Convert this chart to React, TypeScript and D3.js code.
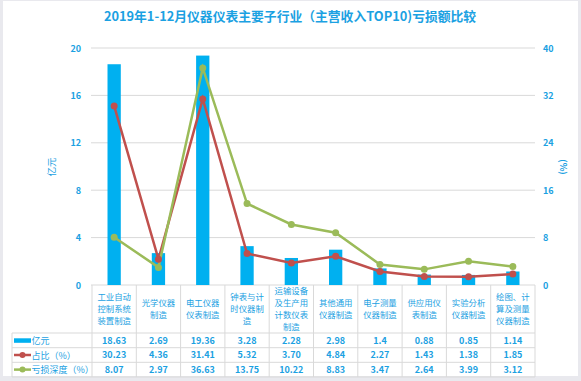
import React from "react";
import * as d3 from "d3";

const title = "2019年1-12月仪器仪表主要子行业（主营收入TOP10)亏损额比较";
const categories: string[][] = [
  ["工业自动", "控制系统", "装置制造"],
  ["光学仪器", "制造"],
  ["电工仪器", "仪表制造"],
  ["钟表与计", "时仪器制", "造"],
  ["运输设备", "及生产用", "计数仪表", "制造"],
  ["其他通用", "仪器制造"],
  ["电子测量", "仪器制造"],
  ["供应用仪", "表制造"],
  ["实验分析", "仪器制造"],
  ["绘图、计", "算及测量", "仪器制造"],
];
const lossValues = [18.63, 2.69, 19.36, 3.28, 2.28, 2.98, 1.4, 0.88, 0.85, 1.14];
const lossLabels = ["18.63", "2.69", "19.36", "3.28", "2.28", "2.98", "1.4", "0.88", "0.85", "1.14"];
const shareValues = [30.23, 4.36, 31.41, 5.32, 3.7, 4.84, 2.27, 1.43, 1.38, 1.85];
const shareLabels = ["30.23", "4.36", "31.41", "5.32", "3.70", "4.84", "2.27", "1.43", "1.38", "1.85"];
const depthValues = [8.07, 2.97, 36.63, 13.75, 10.22, 8.83, 3.47, 2.64, 3.99, 3.12];
const depthLabels = ["8.07", "2.97", "36.63", "13.75", "10.22", "8.83", "3.47", "2.64", "3.99", "3.12"];
const leftTicks = [0, 4, 8, 12, 16, 20];
const rightTicks = [0, 8, 16, 24, 32, 40];
const seriesNames = ["亿元", "占比（%）", "亏损深度（%）"];

const W = 581, H = 381;
const FONT = "'Noto Sans CJK SC', 'Noto Sans', sans-serif";
const TXT = "#1ba1e2";
const BLUE = "#00b0f0";
const RED = "#c0504d";
const GREEN = "#9bbb59";
const GRID = "#d9d9d9";

export default function App() {
  const ids = categories.map((_, i) => String(i));
  const x = d3.scaleBand<string>().domain(ids).range([92, 535]).padding(0);
  const yL = d3.scaleLinear().domain([0, 20]).range([285, 48]);
  const yR = d3.scaleLinear().domain([0, 40]).range([285, 48]);
  const bw = x.bandwidth() * 0.3;
  const cx = (i: number) => (x(String(i)) as number) + x.bandwidth() / 2;
  const lineR = d3.line<number>().x((_, i) => cx(i)).y((d) => yR(d));

  const rowTops = [333, 347.7, 362.3, 377];
  const rowLabels = [lossLabels, shareLabels, depthLabels];

  return (
    <svg width={W} height={H} style={{ position: "absolute", left: 0, top: 0, fontFamily: FONT }}>
      <rect x={0} y={0} width={W} height={H} fill="#e9e9ee" />
      <rect x={3} y={1} width={575} height={375} fill="#ffffff" />
      <text x={290} y={21} textAnchor="middle" fontSize={12.8} fontWeight="bold" fill={TXT}>{title}</text>

      {leftTicks.map((t) => (
        <g key={"g" + t}>
          <line x1={91} x2={535} y1={yL(t)} y2={yL(t)} stroke={GRID} strokeWidth={1} />
          <text x={81} y={yL(t) + 3.5} textAnchor="end" fontSize={9} fontWeight="bold" fill={TXT}>{t}</text>
        </g>
      ))}
      {rightTicks.map((t) => (
        <text key={"r" + t} x={543} y={yR(t) + 3.5} textAnchor="start" fontSize={9} fontWeight="bold" fill={TXT}>{t}</text>
      ))}
      <text transform={`translate(55,167) rotate(-90)`} textAnchor="middle" fontSize={9.5} fill={TXT}>亿元</text>
      <text transform={`translate(560,167) rotate(90)`} textAnchor="middle" fontSize={9} fontWeight="bold" fill={TXT}>(%)</text>

      {lossValues.map((v, i) => (
        <rect key={"b" + i} x={cx(i) - bw / 2} y={yL(v)} width={bw} height={yL(0) - yL(v)} fill={BLUE} />
      ))}
      <path d={lineR(shareValues) || ""} fill="none" stroke={RED} strokeWidth={2.5} />
      <path d={lineR(depthValues) || ""} fill="none" stroke={GREEN} strokeWidth={2.5} />
      {shareValues.map((v, i) => (
        <circle key={"s" + i} cx={cx(i)} cy={yR(v)} r={3.5} fill={RED} />
      ))}
      {depthValues.map((v, i) => (
        <circle key={"d" + i} cx={cx(i)} cy={yR(v)} r={3.5} fill={GREEN} />
      ))}

      {/* table grid */}
      {ids.concat(["end"]).map((id, i) => {
        const xx = i < ids.length ? (x(id) as number) : 535;
        return <line key={"v" + i} x1={xx} x2={xx} y1={285} y2={377} stroke={GRID} strokeWidth={1} />;
      })}
      <line x1={12} x2={12} y1={333} y2={377} stroke={GRID} strokeWidth={1} />
      {rowTops.map((y, i) => (
        <line key={"h" + i} x1={12} x2={535} y1={y} y2={y} stroke={GRID} strokeWidth={1} />
      ))}

      {categories.map((lines, i) => {
        const lh = 11.8;
        const start = 309 - ((lines.length - 1) * lh) / 2;
        return (
          <g key={"c" + i}>
            {lines.map((ln, j) => (
              <text key={j} x={cx(i)} y={start + j * lh + 3} textAnchor="middle" fontSize={8.4} fill={TXT}>{ln}</text>
            ))}
          </g>
        );
      })}

      {rowLabels.map((labels, r) =>
        labels.map((lab, i) => (
          <text key={"t" + r + "-" + i} x={cx(i)} y={(rowTops[r] + rowTops[r + 1]) / 2 + 3.3} textAnchor="middle" fontSize={9} fontWeight="bold" fill={TXT}>{lab}</text>
        ))
      )}

      {/* legend column */}
      <rect x={14} y={338.3} width={17} height={4.5} fill={BLUE} />
      <line x1={14} x2={31} y1={355} y2={355} stroke={RED} strokeWidth={2.5} />
      <circle cx={22.5} cy={355} r={3} fill={RED} />
      <line x1={14} x2={31} y1={369.6} y2={369.6} stroke={GREEN} strokeWidth={2.5} />
      <circle cx={22.5} cy={369.6} r={3} fill={GREEN} />
      {seriesNames.map((n, r) => (
        <text key={"n" + r} x={31.5} y={(rowTops[r] + rowTops[r + 1]) / 2 + 3.5} fontSize={9} fill={TXT}>{n}</text>
      ))}
    </svg>
  );
}
